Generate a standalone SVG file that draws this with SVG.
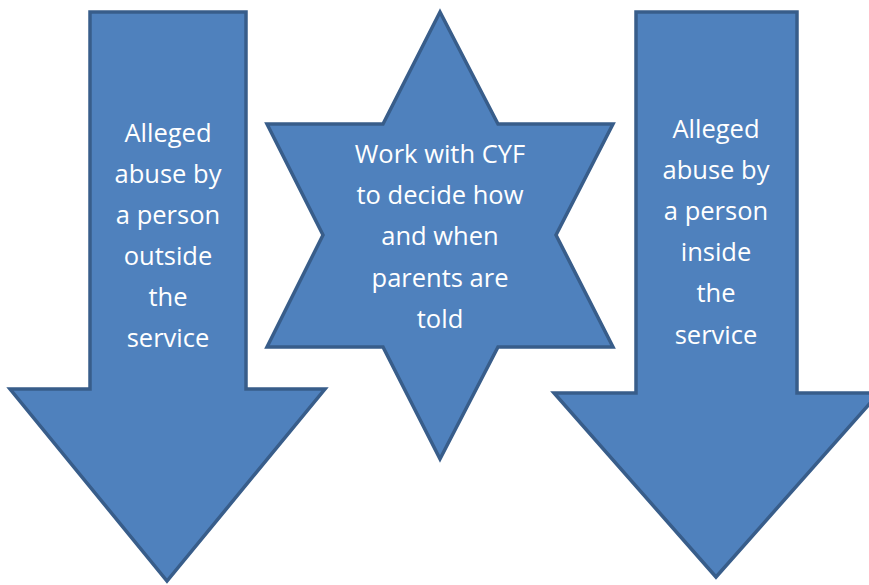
<svg xmlns="http://www.w3.org/2000/svg" width="869" height="585" viewBox="0 0 869 585">
<style>
.shape{fill:#4F81BD;stroke:#385D8A;stroke-width:3.5;stroke-linejoin:miter}
.t{font-family:"Open Sans","Liberation Sans",sans-serif;font-size:25.5px;fill:#FFFFFF;text-anchor:middle}
</style>
<rect width="869" height="585" fill="#FFFFFF"/>
<g id="left-arrow">
<polygon class="shape" points="90,12 246,12 246,389 325,389 167,581 10,389 90,389"/>
<text class="t" x="168" y="142">Alleged</text>
<text class="t" x="168" y="183">abuse by</text>
<text class="t" x="168" y="224">a person</text>
<text class="t" x="168" y="265">outside</text>
<text class="t" x="168" y="306">the</text>
<text class="t" x="168" y="347">service</text>
</g>
<g id="star">
<polygon class="shape" points="440,12 498,124 613,124 556,235 613,347 498,347 440,459 383,347 267,347 323,235 267,124 383,124"/>
<text class="t" x="440" y="163">Work with CYF</text>
<text class="t" x="440" y="204">to decide how</text>
<text class="t" x="440" y="245">and when</text>
<text class="t" x="440" y="287">parents are</text>
<text class="t" x="440" y="328">told</text>
</g>
<g id="right-arrow">
<polygon class="shape" points="636,12 797,12 797,393 879,393 716,577 554,393 636,393"/>
<text class="t" x="716" y="138">Alleged</text>
<text class="t" x="716" y="179">abuse by</text>
<text class="t" x="716" y="220">a person</text>
<text class="t" x="716" y="261">inside</text>
<text class="t" x="716" y="302">the</text>
<text class="t" x="716" y="344">service</text>
</g>
<g id="connectors"></g>
</svg>
